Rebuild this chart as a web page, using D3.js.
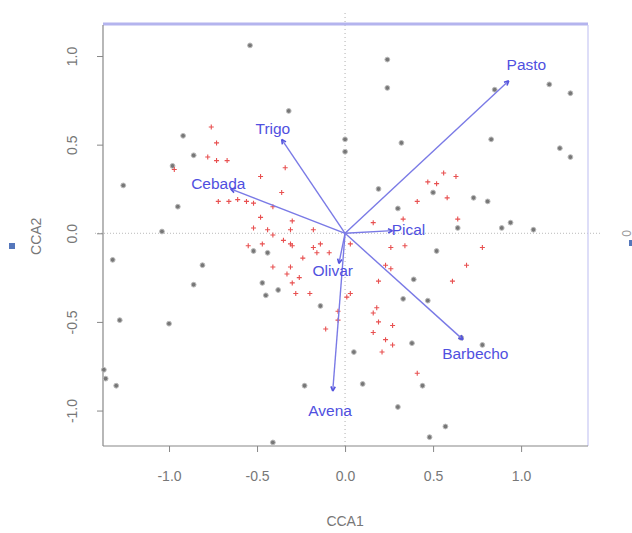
<!DOCTYPE html>
<html><head><meta charset="utf-8">
<script src="https://cdn.jsdelivr.net/npm/d3@7"></script>
<style>body{margin:0;background:#fff}svg{display:block}</style>
</head><body><svg id="c" width="632" height="533"></svg>
<script>
const xTicks = [-1.0, -0.5, 0.0, 0.5, 1.0];
const yTicks = [-1.0, -0.5, 0.0, 0.5, 1.0];
const xTickLabels = ["-1.0", "-0.5", "0.0", "0.5", "1.0"];
const yTickLabels = ["-1.0", "-0.5", "0.0", "0.5", "1.0"];
const xTitle = "CCA1";
const yTitle = "CCA2";

// site scores (grey dots)
const sitesX = [-0.92,-0.86,-0.98,-1.26,-0.95,-1.04,-0.54,-0.32,0.24,0.24,0.00,0.00,0.32,0.19,0.30,0.50,0.64,1.16,1.28,0.85,0.83,1.22,1.28,0.81,0.73,0.89,0.94,1.07,-1.32,-0.81,-0.86,-1.28,-1.00,-1.30,-1.36,-1.37,-0.52,-0.44,-0.45,-0.38,-0.47,-0.14,-0.23,-0.41,0.39,0.33,0.38,0.10,0.44,0.30,0.57,0.48,0.47,0.05,0.52,0.66,0.78];
const sitesY = [0.55,0.44,0.38,0.27,0.15,0.01,1.06,0.69,0.98,0.82,0.46,0.53,0.51,0.25,0.14,0.23,0.03,0.84,0.79,0.81,0.53,0.48,0.43,0.18,0.20,0.03,0.06,0.02,-0.15,-0.18,-0.29,-0.49,-0.51,-0.86,-0.82,-0.77,-0.10,-0.11,-0.35,-0.32,-0.28,-0.41,-0.86,-1.18,-0.26,-0.37,-0.62,-0.85,-0.86,-0.98,-1.09,-1.15,-0.38,-0.67,-0.10,-0.59,-0.63];

// species scores (red crosses)
const specX = [-0.76,-0.73,-0.78,-0.73,-0.67,-0.97,-0.34,-0.36,-0.48,-0.61,-0.56,-0.52,-0.72,-0.66,-0.41,-0.30,-0.18,-0.31,-0.48,-0.44,-0.52,-0.55,-0.47,-0.41,-0.35,-0.31,-0.30,-0.24,-0.18,-0.14,-0.16,-0.09,-0.31,-0.26,-0.33,-0.30,-0.28,-0.20,-0.41,-0.11,-0.04,-0.04,0.26,0.34,0.03,0.23,0.26,0.19,0.61,0.18,0.16,0.19,0.27,0.16,0.23,0.27,0.21,0.41,0.03,0.01,0.56,0.63,0.47,0.52,0.58,0.41,0.33,0.64,0.16,0.78,0.69];
const specY = [0.60,0.51,0.43,0.41,0.41,0.36,0.37,0.23,0.32,0.19,0.18,0.17,0.18,0.18,0.15,0.07,0.02,0.02,0.09,0.02,0.03,-0.07,-0.06,-0.01,-0.04,-0.06,-0.07,-0.14,-0.08,-0.06,-0.11,-0.11,-0.19,-0.25,-0.23,-0.28,-0.34,-0.34,-0.19,-0.54,-0.44,-0.49,-0.08,-0.07,-0.06,-0.18,-0.20,-0.27,-0.27,-0.42,-0.45,-0.50,-0.52,-0.56,-0.60,-0.63,-0.67,-0.79,-0.34,-0.36,0.34,0.32,0.29,0.28,0.20,0.18,0.08,0.08,0.06,-0.08,-0.18];

// environmental biplot arrows
const envNames = ["Pasto","Trigo","Cebada","Pical","Olivar","Barbecho","Avena"];
const envX = [0.93,-0.36,-0.65,0.27,-0.035,0.67,-0.07];
const envY = [0.86,0.53,0.25,0.015,-0.17,-0.60,-0.89];
const labX = [1.03,-0.41,-0.72,0.36,-0.07,0.74,-0.085];
const labY = [0.95,0.59,0.28,0.02,-0.21,-0.68,-1.00];

const FONT = "Liberation Sans, Arial, sans-serif";
const svg = d3.select("#c");
const L = 103, R = 588, T = 25, B = 446;
const x = d3.scaleLinear().domain([-1.375, 1.38]).range([L, R]);
const y = d3.scaleLinear().domain([-1.20, 1.175]).range([B, T]);

// dotted zero lines
svg.append("line").attr("x1", x(0)).attr("x2", x(0)).attr("y1", 13).attr("y2", B)
  .attr("stroke", "#999").attr("stroke-width", 0.8).attr("stroke-dasharray", "1,3");
svg.append("line").attr("x1", 95).attr("x2", 600).attr("y1", y(0)).attr("y2", y(0))
  .attr("stroke", "#aaa").attr("stroke-width", 0.8).attr("stroke-dasharray", "1,2");

// frame
svg.append("line").attr("x1", L).attr("x2", R).attr("y1", T - 1).attr("y2", T - 1)
  .attr("stroke", "#b4b4ee").attr("stroke-width", 3);
svg.append("line").attr("x1", R).attr("x2", R).attr("y1", T).attr("y2", B)
  .attr("stroke", "#c8c8f4").attr("stroke-width", 1.2);

// axes
const gx = svg.append("g").attr("transform", `translate(0,${B})`)
  .call(d3.axisBottom(x).tickValues(xTicks).tickFormat((d, i) => xTickLabels[i]).tickSize(6).tickPadding(19).tickSizeOuter(0));
const gy = svg.append("g").attr("transform", `translate(${L},0)`)
  .call(d3.axisLeft(y).tickValues(yTicks).tickFormat((d, i) => yTickLabels[i]).tickSize(6).tickSizeOuter(0));
[gx, gy].forEach(g => {
  g.select(".domain").attr("stroke", "#888").attr("stroke-width", 1.2);
  g.selectAll(".tick line").attr("stroke", "#888");
  g.selectAll("text").attr("fill", "#777").attr("font-family", FONT).attr("font-size", 14);
});
gx.select(".domain").attr("d", `M${L},0H${R}`);
gy.select(".domain").attr("d", `M0,${B}V${T}`);
gy.selectAll(".tick text").attr("text-anchor", "middle").attr("dy", 0)
  .attr("x", 0).attr("transform", "translate(-31,0) rotate(-90)").attr("y", 5);

svg.append("text").attr("x", x(0)).attr("y", 526).attr("text-anchor", "middle")
  .attr("fill", "#777").attr("font-family", FONT).attr("font-size", 14).text(xTitle);
svg.append("text").attr("transform", `translate(41,${y(0) + 3}) rotate(-90)`).attr("text-anchor", "middle")
  .attr("fill", "#777").attr("font-family", FONT).attr("font-size", 14).text(yTitle);

// small clipped marks at the sides
svg.append("rect").attr("x", 9).attr("y", 243).attr("width", 6).attr("height", 6).attr("fill", "#5577bb");
svg.append("text").attr("transform", `translate(622,${y(0)}) rotate(90)`).attr("text-anchor", "middle")
  .attr("fill", "#999").attr("font-family", FONT).attr("font-size", 12).text("0");
svg.append("rect").attr("x", 629).attr("y", 240).attr("width", 4).attr("height", 6).attr("fill", "#5577bb");

// sites
const sites = sitesX.map((v, i) => ({x: v, y: sitesY[i]}));
svg.append("g").selectAll("circle").data(sites).join("circle")
  .attr("cx", d => x(d.x)).attr("cy", d => y(d.y)).attr("r", 2.4)
  .attr("fill", "#777").attr("stroke", "#bbb").attr("stroke-width", 1);

// species
const spec = specX.map((v, i) => ({x: v, y: specY[i]}));
svg.append("g").selectAll("path").data(spec).join("path")
  .attr("d", d => `M${x(d.x) - 2.5},${y(d.y)}h5M${x(d.x)},${y(d.y) - 2.5}v5`)
  .attr("stroke", "#e85050").attr("stroke-width", 1.1).attr("fill", "none");

// arrows
const env = envNames.map((n, i) => ({n, x: envX[i], y: envY[i], lx: labX[i], ly: labY[i]}));
const ga = svg.append("g");
env.forEach(d => {
  const x0 = x(0), y0 = y(0), x1 = x(d.x), y1 = y(d.y);
  ga.append("line").attr("x1", x0).attr("y1", y0).attr("x2", x1).attr("y2", y1)
    .attr("stroke", "#7a7ae6").attr("stroke-width", 1.4);
  const a = Math.atan2(y1 - y0, x1 - x0), h = 5, w = 0.45;
  ga.append("path").attr("d", `M${x1},${y1}L${x1 - h * Math.cos(a - w)},${y1 - h * Math.sin(a - w)}M${x1},${y1}L${x1 - h * Math.cos(a + w)},${y1 - h * Math.sin(a + w)}`)
    .attr("stroke", "#5555dd").attr("stroke-width", 1.6).attr("fill", "none");
});
ga.selectAll("text").data(env).join("text")
  .attr("x", d => x(d.lx)).attr("y", d => y(d.ly) + 5.5).attr("text-anchor", "middle")
  .attr("fill", "#5050e0").attr("font-family", FONT).attr("font-size", 15.5)
  .text(d => d.n);
</script></body></html>
